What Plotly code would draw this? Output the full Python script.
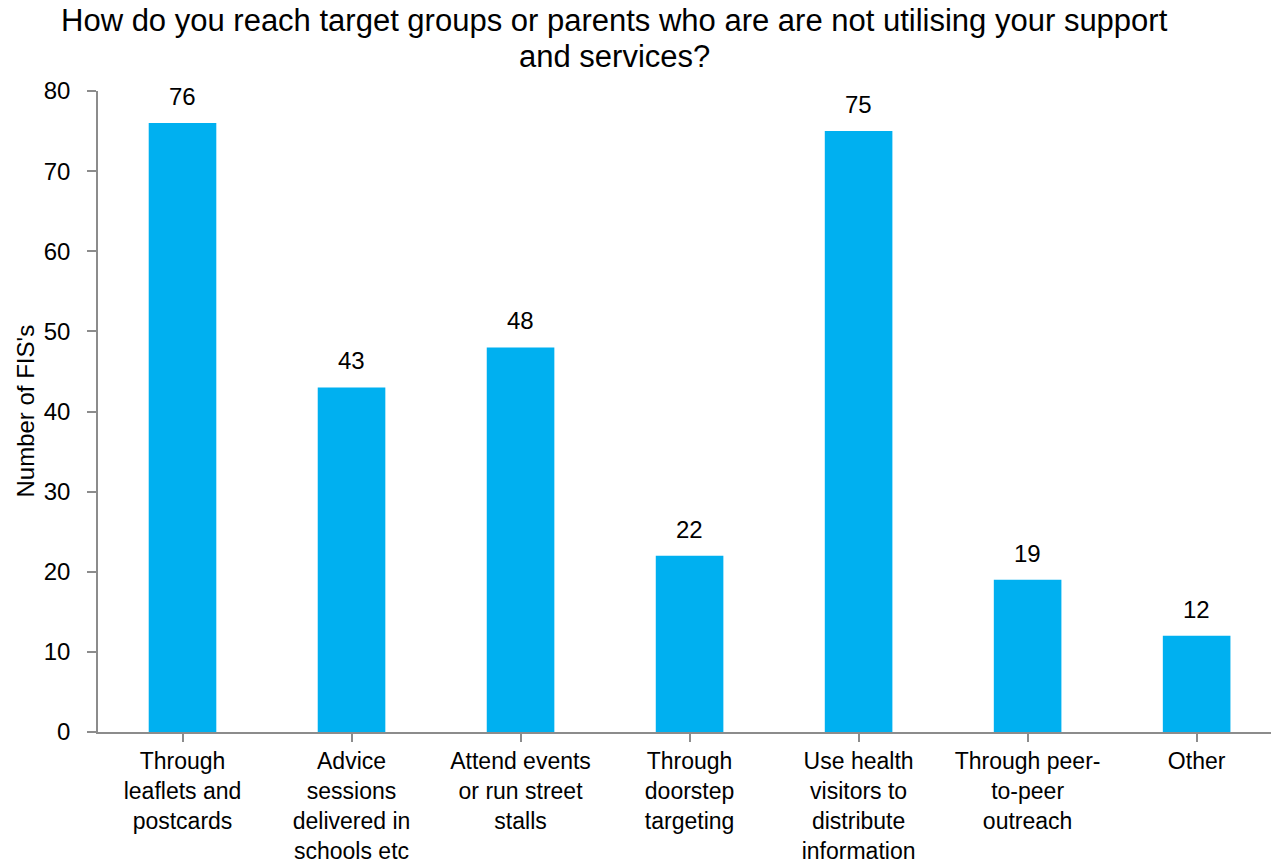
import plotly.graph_objects as go

# Survey responses: how Family Information Services reach non-users
categories = [
    "Through<br>leaflets and<br>postcards",
    "Advice<br>sessions<br>delivered in<br>schools etc",
    "Attend events<br>or run street<br>stalls",
    "Through<br>doorstep<br>targeting",
    "Use health<br>visitors to<br>distribute<br>information",
    "Through peer-<br>to-peer<br>outreach",
    "Other",
]
counts = [76, 43, 48, 22, 75, 19, 12]
y_ticks = [0, 10, 20, 30, 40, 50, 60, 70, 80]
title_lines = [
    "How do you reach target groups or parents who are are not utilising your support",
    "and services?",
]

FONT = "Liberation Sans, Arial, sans-serif"
BAR = "#00B0F0"
AXIS = "#8C8C8C"

W, H = 1271, 864
ML, MR, MT, MB = 98, 0, 91, 132
PW, PH = W - ML - MR, H - MT - MB


def px_x(p):
    return (p - ML) / PW


def px_y(p):
    return (H - MB - p) / PH


fig = go.Figure()
fig.add_trace(go.Bar(
    x=list(range(len(categories))),
    y=counts,
    marker=dict(color=BAR, line=dict(width=0)),
    width=0.4,
    hoverinfo="skip",
))

# value labels above each bar
for i, v in enumerate(counts):
    fig.add_annotation(
        x=i, y=v, xref="x", yref="y",
        text=str(v), showarrow=False,
        yanchor="bottom", yshift=11,
        font=dict(family=FONT, size=24, color="#000000"),
    )

# chart title, one annotation per line for tight leading
for line, cy in zip(title_lines, [21, 56]):
    fig.add_annotation(
        x=px_x(614), y=px_y(cy), xref="paper", yref="paper",
        text=line, showarrow=False,
        xanchor="center", yanchor="middle",
        font=dict(family=FONT, size=31, color="#000000"),
    )

# vertical axis title
fig.add_annotation(
    x=px_x(25), y=0.5, xref="paper", yref="paper",
    text="Number of FIS's", textangle=-90, showarrow=False,
    xanchor="center", yanchor="middle",
    font=dict(family=FONT, size=24, color="#000000"),
)

fig.update_layout(
    width=W, height=H,
    margin=dict(l=ML, r=MR, t=MT, b=MB),
    paper_bgcolor="white", plot_bgcolor="white",
    showlegend=False,
    xaxis=dict(
        tickmode="array",
        tickvals=list(range(len(categories))),
        ticktext=categories,
        range=[-0.5, 6.44],
        tickson="boundaries",
        ticks="outside", ticklen=8, tickwidth=1.5, tickcolor=AXIS,
        showline=True, linecolor=AXIS, linewidth=1.5,
        showgrid=False, zeroline=False,
        tickfont=dict(family=FONT, size=23, color="#000000"),
        ticklabelstandoff=0,
        automargin=False,
    ),
    yaxis=dict(
        range=[0, 80],
        tickmode="array", tickvals=y_ticks,
        ticks="outside", ticklen=9, tickwidth=1.5, tickcolor=AXIS,
        showline=True, linecolor=AXIS, linewidth=1.5,
        showgrid=False, zeroline=False,
        tickfont=dict(family=FONT, size=24, color="#000000"),
        ticklabelstandoff=12,
        automargin=False,
    ),
)

fig.write_html("out.html")
